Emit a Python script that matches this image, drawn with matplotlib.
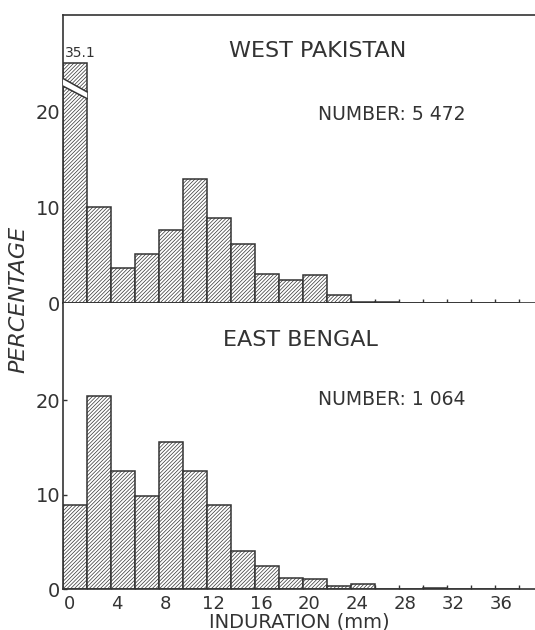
import numpy as np
import matplotlib
matplotlib.use("Agg")
import matplotlib.pyplot as plt
from matplotlib.patches import Polygon

# induration bins (mm), each 2 mm wide, labelled by lower value
bins = [0, 2, 4, 6, 8, 10, 12, 14, 16, 18, 20, 22, 24, 26, 28, 30, 32, 34, 36]
# percentage of subjects in each bin
west_pakistan = [35.1, 10.0, 3.6, 5.1, 7.6, 12.9, 8.9, 6.1, 3.0, 2.4, 2.9, 0.8,
                 0.1, 0.1, 0.0, 0.0, 0.0, 0.0, 0.0]
east_bengal = [8.9, 20.4, 12.5, 9.9, 15.6, 12.5, 8.9, 4.0, 2.4, 1.2, 1.1, 0.3,
               0.5, 0.0, 0.05, 0.12, 0.0, 0.0, 0.0]
panels = ["WEST PAKISTAN", "EAST BENGAL"]
numbers = ["NUMBER: 5 472", "NUMBER: 1 064"]
x_labels = [0, 4, 8, 12, 16, 20, 24, 28, 32, 36]
y_ticks = [0, 10, 20]

INK = "#333333"
BIN_W = 2
SHIFT = -0.5        # bins run from -0.5 to 1.5, 1.5 to 3.5, ...
CAP = 25            # first bar of top panel is drawn broken at this height

plt.rcParams["hatch.linewidth"] = 0.5
plt.rcParams["font.family"] = "DejaVu Sans"

fig = plt.figure(figsize=(5.35, 6.3), dpi=100)
ax_top = fig.add_axes([0.1178, 0.519, 0.8822, 0.457])
ax_bot = fig.add_axes([0.1178, 0.065, 0.8822, 0.454])

edges = np.array(bins) + SHIFT

for ax, vals, name, num, ymax in [(ax_top, west_pakistan, panels[0], numbers[0], 30.0),
                                  (ax_bot, east_bengal, panels[1], numbers[1], 30.3)]:
    heights = np.minimum(vals, CAP)
    ax.bar(edges, heights, width=BIN_W, align="edge", facecolor="white",
           edgecolor=INK, linewidth=1.1, hatch="/////////", zorder=2)
    ax.set_xlim(SHIFT, 38.8)
    ax.set_ylim(0, ymax)
    ax.set_yticks(y_ticks)
    ax.set_xticks(x_labels)
    ax.set_xticks(list(edges) + [edges[-1] + BIN_W], minor=True)
    ax.tick_params(axis="x", which="major", length=0, pad=4, labelsize=13, colors=INK)
    ax.tick_params(axis="x", which="minor", direction="in", length=3, width=1, color=INK)
    ax.tick_params(axis="y", direction="in", length=3, width=1, pad=2, labelsize=14,
                   colors=INK)
    for s in ["left", "bottom", "top"]:
        ax.spines[s].set_color(INK)
        ax.spines[s].set_linewidth(1.2)
    ax.spines["right"].set_visible(False)
    ax.text(0.54 if ax is ax_top else 0.502, 0.875 if ax is ax_top else 0.871, name,
            transform=ax.transAxes, ha="center", va="center", fontsize=16, color=INK)
    ax.text(0.54, 0.656 if ax is ax_top else 0.664, num, transform=ax.transAxes,
            ha="left", va="center", fontsize=13.5, color=INK)

ax_top.tick_params(axis="x", labelbottom=False)
ax_bot.spines["top"].set_visible(False)

# break on the tall first bar of the top panel
x0, x1 = edges[0], edges[0] + BIN_W
band_lo = [22.6, 21.3]
band_hi = [23.4, 22.0]
ax_top.add_patch(Polygon([(x0, band_lo[0]), (x1, band_lo[1]), (x1, band_hi[1]), (x0, band_hi[0])],
                         closed=True, facecolor="white", edgecolor="none", zorder=3))
ax_top.plot([x0, x1], band_lo, color=INK, lw=1.1, zorder=4)
ax_top.plot([x0, x1], band_hi, color=INK, lw=1.1, zorder=4)
ax_top.text(x0 + 0.15, CAP + 0.3, f"{west_pakistan[0]}", ha="left", va="bottom",
            fontsize=10, color=INK)

fig.text(0.034, 0.524, "PERCENTAGE", rotation=90, ha="center", va="center",
         fontsize=16, style="italic", color=INK)
fig.text(0.56, 0.013, "INDURATION (mm)", ha="center", va="center", fontsize=14, color=INK)

fig.savefig("out.png", dpi=100)
